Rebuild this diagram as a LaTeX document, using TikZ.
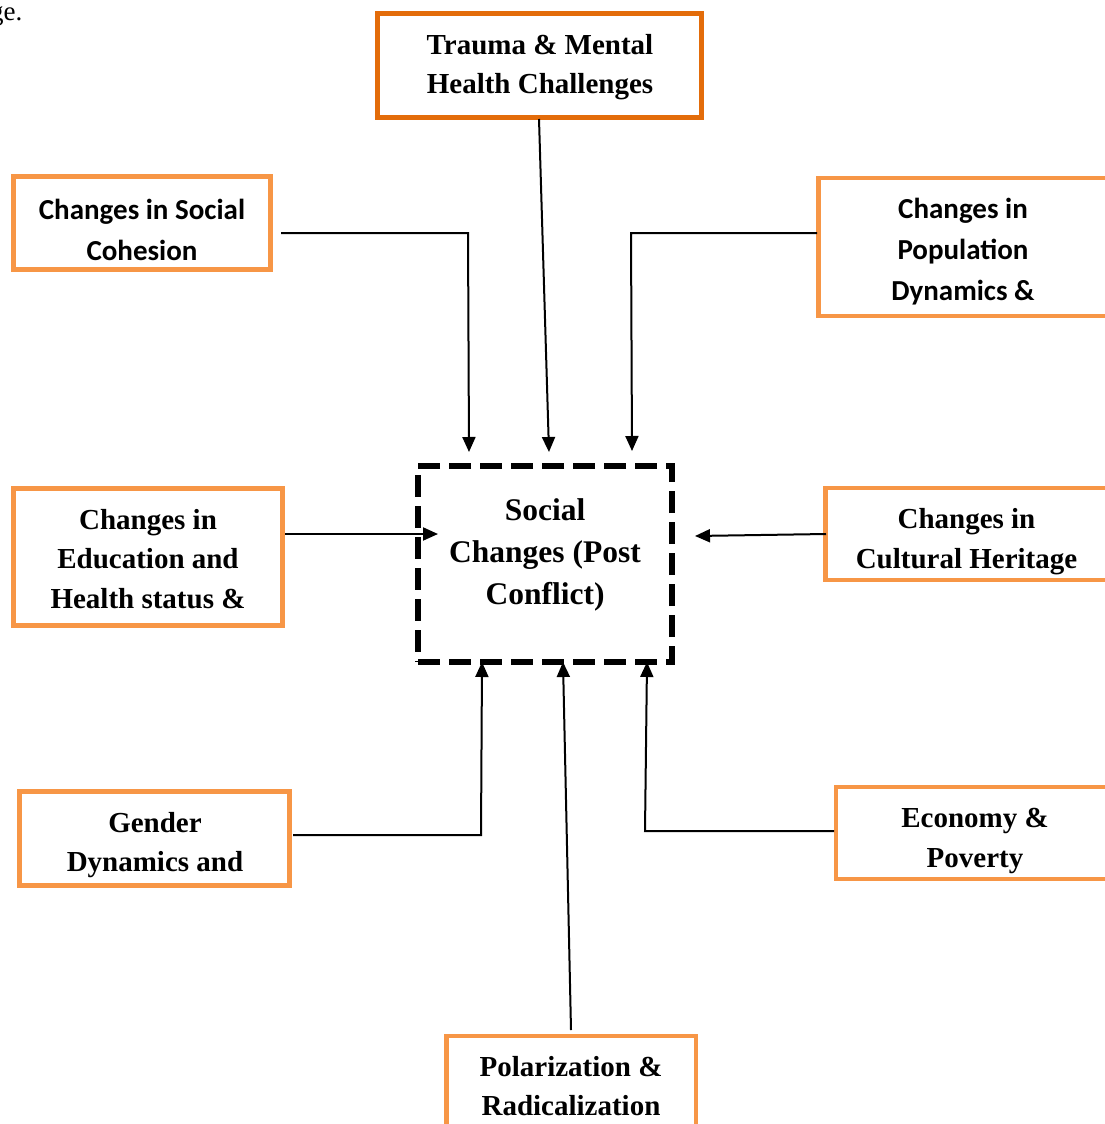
\documentclass[tikz,border=0pt]{standalone}
\usepackage{fontspec}
\setmainfont{Liberation Serif}[BoldFont={Liberation Serif Bold}]
\newfontfamily\calib{Carlito}
\usetikzlibrary{arrows.meta}
\definecolor{lorange}{HTML}{F79646}
\definecolor{dorange}{HTML}{E36C0A}
\tikzset{
  obox/.style={draw=lorange, line width=4.5pt, inner sep=0pt, fill=white},
  tbox/.style={draw=dorange, line width=5pt, inner sep=0pt, fill=white},
  cbox/.style={draw=black, line width=6.5pt, dash pattern=on 22pt off 9pt, inner sep=0pt},
  serift/.style={font=\fontsize{29}{39.5}\selectfont\bfseries, align=center, inner sep=0pt},
  sanst/.style={font=\fontsize{29}{41}\selectfont\calib\bfseries, align=center, inner sep=0pt},
  centt/.style={font=\fontsize{31.5}{42}\selectfont\bfseries, align=center, inner sep=0pt},
  conn/.style={draw=black, line width=2pt, -{Triangle[length=15pt,width=13pt]}},
}
\begin{document}
\begin{tikzpicture}[x=1pt,y=-1pt]
\useasboundingbox (0,0) rectangle (1104,1124);
\fill[white] (0,0) rectangle (1104,1124);

% cut-off text at top left
\node[anchor=base east, inner sep=0pt, font=\fontsize{27}{30}\selectfont] (frag) at (22.5,21) {ge.};

% boxes
\node[tbox, minimum width=324pt, minimum height=104pt] (trauma) at (539.5,65.5) {};
\node[serift] (traumat) at (540,67) {Trauma \& Mental\\Health Challenges};

\node[obox, minimum width=257pt, minimum height=93pt] (soc) at (142,223) {};
\node[sanst] (soct) at (142,229.5) {Changes in Social\\Cohesion};

\node[obox, minimum width=300pt, minimum height=138pt] (pop) at (968.5,247) {};
\node[sanst] (popt) at (963,252) {Changes in\\Population\\Dynamics \&};

\node[obox, minimum width=269pt, minimum height=137pt] (edu) at (148,557) {};
\node[serift] (edut) at (148,559) {Changes in\\Education and\\Health status \&};

\node[obox, minimum width=300pt, minimum height=92pt] (cult) at (975.5,534) {};
\node[serift] (cultt) at (966.5,541.5) {Changes in\\Cultural Heritage};

\node[obox, minimum width=270pt, minimum height=94pt] (gend) at (154.5,838.5) {};
\node[serift] (gendt) at (155,845) {Gender\\Dynamics and};

\node[obox, minimum width=290pt, minimum height=92pt] (econ) at (981,833) {};
\node[serift] (econt) at (975,841) {Economy \&\\Poverty};

\node[obox, minimum width=249.5pt, minimum height=120pt] (pol) at (571,1096) {};
\node[serift] (polt) at (571,1086) {Polarization \&\\Radicalization};

\node[cbox, minimum width=254pt, minimum height=196pt] (core) at (545,564) {};
\node[centt] (coret) at (545,554.5) {Social\\Changes (Post\\Conflict)};

% connector coordinates
\coordinate (s1) at (281,233);  \coordinate (b1) at (468,233);  \coordinate (e1) at (469,452);
\coordinate (s2) at (539,119);  \coordinate (e2) at (549,452);
\coordinate (s3) at (817,233);  \coordinate (b3) at (631,233);  \coordinate (e3) at (632,451);
\coordinate (s4) at (285,534);  \coordinate (e4) at (438,534);
\coordinate (s5) at (826,534);  \coordinate (e5) at (695,536);
\coordinate (s6) at (293,835);  \coordinate (b6) at (481,835);  \coordinate (e6) at (482,662);
\coordinate (s7) at (571,1030); \coordinate (e7) at (563,662);
\coordinate (s8) at (834,831);  \coordinate (b8) at (645,831);  \coordinate (e8) at (647,662);

\draw[conn] (s1) -- (b1) -- (e1);
\draw[conn] (s2) -- (e2);
\draw[conn] (s3) -- (b3) -- (e3);
\draw[conn] (s4) -- (e4);
\draw[conn] (s5) -- (e5);
\draw[conn] (s6) -- (b6) -- (e6);
\draw[conn] (s7) -- (e7);
\draw[conn] (s8) -- (b8) -- (e8);
\end{tikzpicture}
\end{document}
